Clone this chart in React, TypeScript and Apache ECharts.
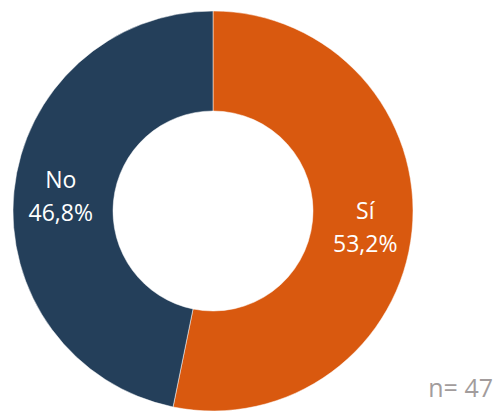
import React, { useEffect, useRef } from "react";
import * as echarts from "echarts";

const categories = ["Sí", "No"];
const values = [53.2, 46.8];
const labels = ["53,2%", "46,8%"];
const colors = ["#D9590F", "#243F5A"];
const sampleNote = "n= 47";

export default function App() {
  const ref = useRef<HTMLDivElement>(null);
  useEffect(() => {
    if (!ref.current) return;
    const chart = echarts.init(ref.current, null, { renderer: "svg" });
    chart.setOption({
      animation: false,
      backgroundColor: "#ffffff",
      series: [
        {
          type: "pie",
          center: [213, 211],
          radius: [100, 200],
          startAngle: 90,
          clockwise: true,
          avoidLabelOverlap: false,
          itemStyle: { borderColor: "#ffffff", borderWidth: 0.5 },
          label: {
            show: true,
            position: "inside",
            color: "#ffffff",
            fontFamily: "Open Sans",
            fontSize: 23,
            lineHeight: 33,
            formatter: (p: any) => `${p.name}\n${labels[p.dataIndex]}`,
          },
          labelLine: { show: false },
          data: categories.map((c, i) => ({
            name: c,
            value: values[i],
            itemStyle: { color: colors[i] },
          })),
        },
      ],
      graphic: [
        {
          type: "text",
          right: 5,
          top: 374,
          style: {
            text: sampleNote,
            fill: "#A29C9C",
            fontFamily: "Open Sans",
            fontSize: 25,
          },
        },
      ],
    });
    return () => chart.dispose();
  }, []);
  return (
    <div
      ref={ref}
      style={{ position: "absolute", left: 0, top: 0, width: 498, height: 411 }}
    />
  );
}
